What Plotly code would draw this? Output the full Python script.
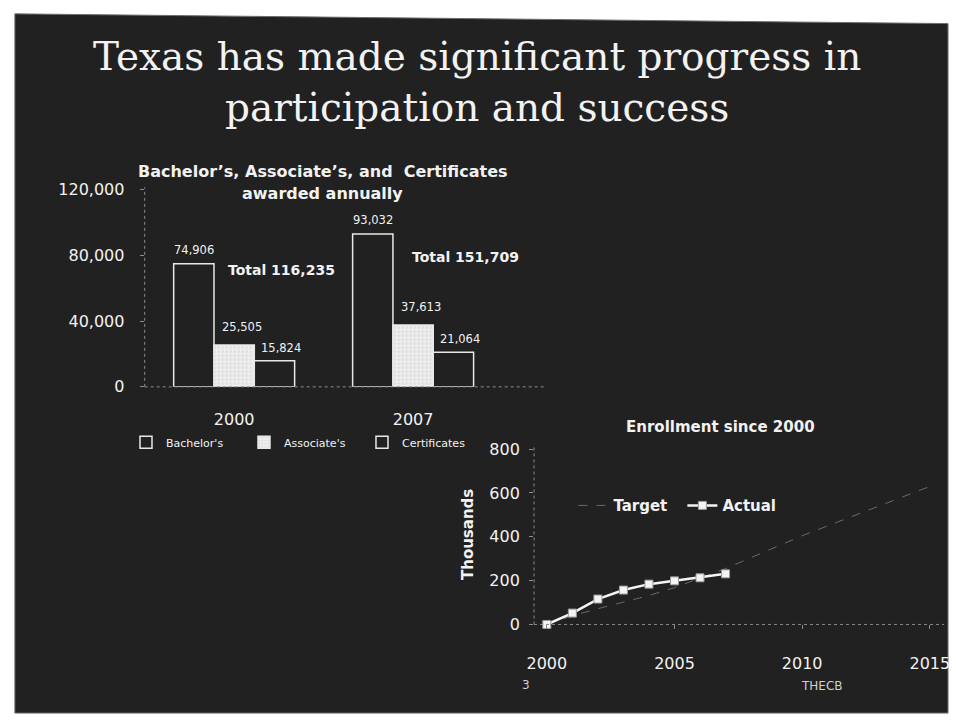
import plotly.graph_objects as go

W, H = 956, 726

# Degrees awarded per year
award_years = ["2000", "2007"]
bachelors = [74906, 93032]
associates = [25505, 37613]
certificates = [15824, 21064]
bar_yticks = [0, 40000, 80000, 120000]

# Enrollment growth since 2000, in thousands
actual_years = [2000, 2001, 2002, 2003, 2004, 2005, 2006, 2007]
actual_enroll = [0, 52, 116, 157, 184, 199, 213, 231]
target_years = [2000, 2001, 2002, 2003, 2004, 2005, 2006, 2007,
                2008, 2009, 2010, 2011, 2012, 2013, 2014, 2015]
target_enroll = [0, 40, 72, 102, 132, 168, 210, 255,
                 305, 355, 405, 450, 495, 540, 585, 630]
line_yticks = [0, 200, 400, 600, 800]
line_xticks = [2000, 2005, 2010, 2015]

title_lines = ["Texas has made significant progress in",
               "participation and success"]
bar_title_lines = ["Bachelor\u2019s, Associate\u2019s, and  Certificates",
                   "awarded annually"]

SLIDE = "#212121"
TXT = "#f2f2f2"
AXIS = "#8c8c8c"
SANS = "DejaVu Sans"
SERIF = "DejaVu Serif"
BARGAP = 0.324


def px(x):
    return x / W


def py(y):
    return 1 - y / H


fig = go.Figure()

# --- grouped bars -------------------------------------------------------
series = [("Bachelor's", bachelors), ("Associate's", associates), ("Certificates", certificates)]
bar_markers = [
    dict(color=SLIDE, line=dict(color="#e8e8e8", width=1.5)),
    dict(color="#ededed", line=dict(color="#e8e8e8", width=1.5),
         pattern=dict(shape=".", fgcolor="#8a8a8a", bgcolor="#ededed", size=4, solidity=0.1)),
    dict(color=SLIDE, line=dict(color="#e8e8e8", width=1.5)),
]
for (name, vals), mk in zip(series, bar_markers):
    fig.add_trace(go.Bar(name=name, x=award_years, y=vals, marker=mk, legend="legend"))

# --- enrollment lines ---------------------------------------------------
fig.add_trace(go.Scatter(name="Target", x=target_years, y=target_enroll,
                         mode="lines", line=dict(color="#6a6a6a", width=1, dash="dash"),
                         xaxis="x2", yaxis="y2", legend="legend2"))
fig.add_trace(go.Scatter(name="Actual", x=actual_years, y=actual_enroll,
                         mode="lines+markers", line=dict(color="#f4f4f4", width=2.5),
                         marker=dict(symbol="square", size=8, color="#f4f4f4",
                                     line=dict(color="#9a9a9a", width=1)),
                         xaxis="x2", yaxis="y2", legend="legend2", cliponaxis=False))

tickfont = dict(family=SANS, size=16, color=TXT)


def paper_text(text, x, y, size, bold=False, color=TXT, family=SANS, angle=0):
    font = dict(family=family, size=size, color=color)
    if bold:
        font["weight"] = "bold"
    return dict(text=text, x=px(x), y=py(y), xref="paper", yref="paper",
                showarrow=False, xanchor="center", yanchor="middle",
                textangle=angle, font=font)


annotations = [paper_text("<br>".join(title_lines), 477, 75, 39, family=SERIF)]
for line, yy in zip(bar_title_lines, [167, 189]):
    annotations.append(paper_text(line, 320, yy, 16, bold=True))

# value labels sit just above each bar, nudged right of centre
bar_w = (1 - BARGAP) / len(series)
label_shift = [(0, 5), (8, 9), (7, 4)]
for s, ((name, vals), (dx, dy)) in enumerate(zip(series, label_shift)):
    for j, v in enumerate(vals):
        annotations.append(dict(text=f"{v:,}", x=j + (s - 1) * bar_w, y=v,
                                xref="x", yref="y", showarrow=False,
                                xanchor="center", yanchor="bottom", xshift=dx, yshift=dy,
                                font=dict(family=SANS, size=11.5, color=TXT)))

totals = [b + a + c for b, a, c in zip(bachelors, associates, certificates)]
for tot, (tx, ty) in zip(totals, [(278, 268), (465, 255)]):
    annotations.append(paper_text(f"Total {tot:,}", tx, ty, 14, bold=True))

annotations += [
    paper_text("Enrollment since 2000", 725, 429, 15, bold=True),
    paper_text("Thousands", 468, 540, 15, bold=True, angle=-90),
    paper_text("3", 527, 694, 12, color="#d0d0d0"),
    paper_text("THECB", 828, 695, 12, color="#d0d0d0"),
]

shapes = [
    # slide face over the white scan margin
    dict(type="path", xref="paper", yref="paper", layer="below",
         path=f"M {px(7)},{py(5)} L 1,{py(15)} L 1,{py(723)} L {px(7)},{py(723)} Z",
         fillcolor=SLIDE, line=dict(color="#6e6e6e", width=1)),
    # dotted axis lines, degrees chart
    dict(type="line", xref="paper", yref="paper", x0=px(139), x1=px(139),
         y0=py(388), y1=py(183), line=dict(color=AXIS, width=1, dash="dot")),
    dict(type="line", xref="paper", yref="paper", x0=px(139), x1=px(548),
         y0=py(388), y1=py(388), line=dict(color=AXIS, width=1, dash="dot")),
    # dotted axis lines, enrollment chart
    dict(type="line", xref="paper", yref="paper", x0=px(535), x1=px(535),
         y0=py(632), y1=py(450), line=dict(color=AXIS, width=1, dash="dot")),
    dict(type="line", xref="paper", yref="paper", x0=px(535), x1=px(952),
         y0=py(632), y1=py(632), line=dict(color=AXIS, width=1, dash="dot")),
]

fig.update_layout(
    width=W, height=H, margin=dict(l=0, r=0, t=0, b=0),
    paper_bgcolor="#ffffff", plot_bgcolor="rgba(0,0,0,0)",
    barmode="group", bargap=BARGAP, bargroupgap=0,
    showlegend=True,
    xaxis=dict(domain=[px(139), px(503)], type="category", anchor="y",
               tickfont=tickfont, ticks="", showline=False, showgrid=False,
               ticklabelstandoff=21),
    yaxis=dict(domain=[py(388), py(185.5)], range=[0, 120000], anchor="x",
               tickvals=bar_yticks, tickformat=",", tickfont=tickfont,
               ticks="outside", ticklen=4, tickcolor=AXIS, showgrid=False,
               zeroline=False, showline=False, ticklabelstandoff=12),
    xaxis2=dict(domain=[px(535), px(950.5)], range=[1999.5, 2015.5], anchor="y2",
                tickvals=line_xticks, tickfont=tickfont, ticks="outside", ticklen=4,
                tickcolor=AXIS, showgrid=False, zeroline=False, showline=False,
                ticklabelstandoff=20, ticklabeloverflow="allow"),
    yaxis2=dict(domain=[py(632), py(452)], range=[0, 800], anchor="x2",
                tickvals=line_yticks, tickfont=tickfont, ticks="outside", ticklen=4,
                tickcolor=AXIS, showgrid=False, zeroline=False, showline=False,
                ticklabelstandoff=6),
    legend=dict(orientation="h", x=px(120), y=py(430), xanchor="left", yanchor="top",
                font=dict(family=SANS, size=11, color=TXT), bgcolor="rgba(0,0,0,0)",
                entrywidth=73, entrywidthmode="pixels", itemwidth=30),
    legend2=dict(orientation="h", x=px(575), y=py(510), xanchor="left", yanchor="middle",
                 font=dict(family=SANS, size=15, color=TXT, weight="bold"),
                 bgcolor="rgba(0,0,0,0)", itemwidth=30,
                 entrywidth=64, entrywidthmode="pixels"),
    annotations=annotations,
    shapes=shapes,
)

fig.write_html("out.html")
